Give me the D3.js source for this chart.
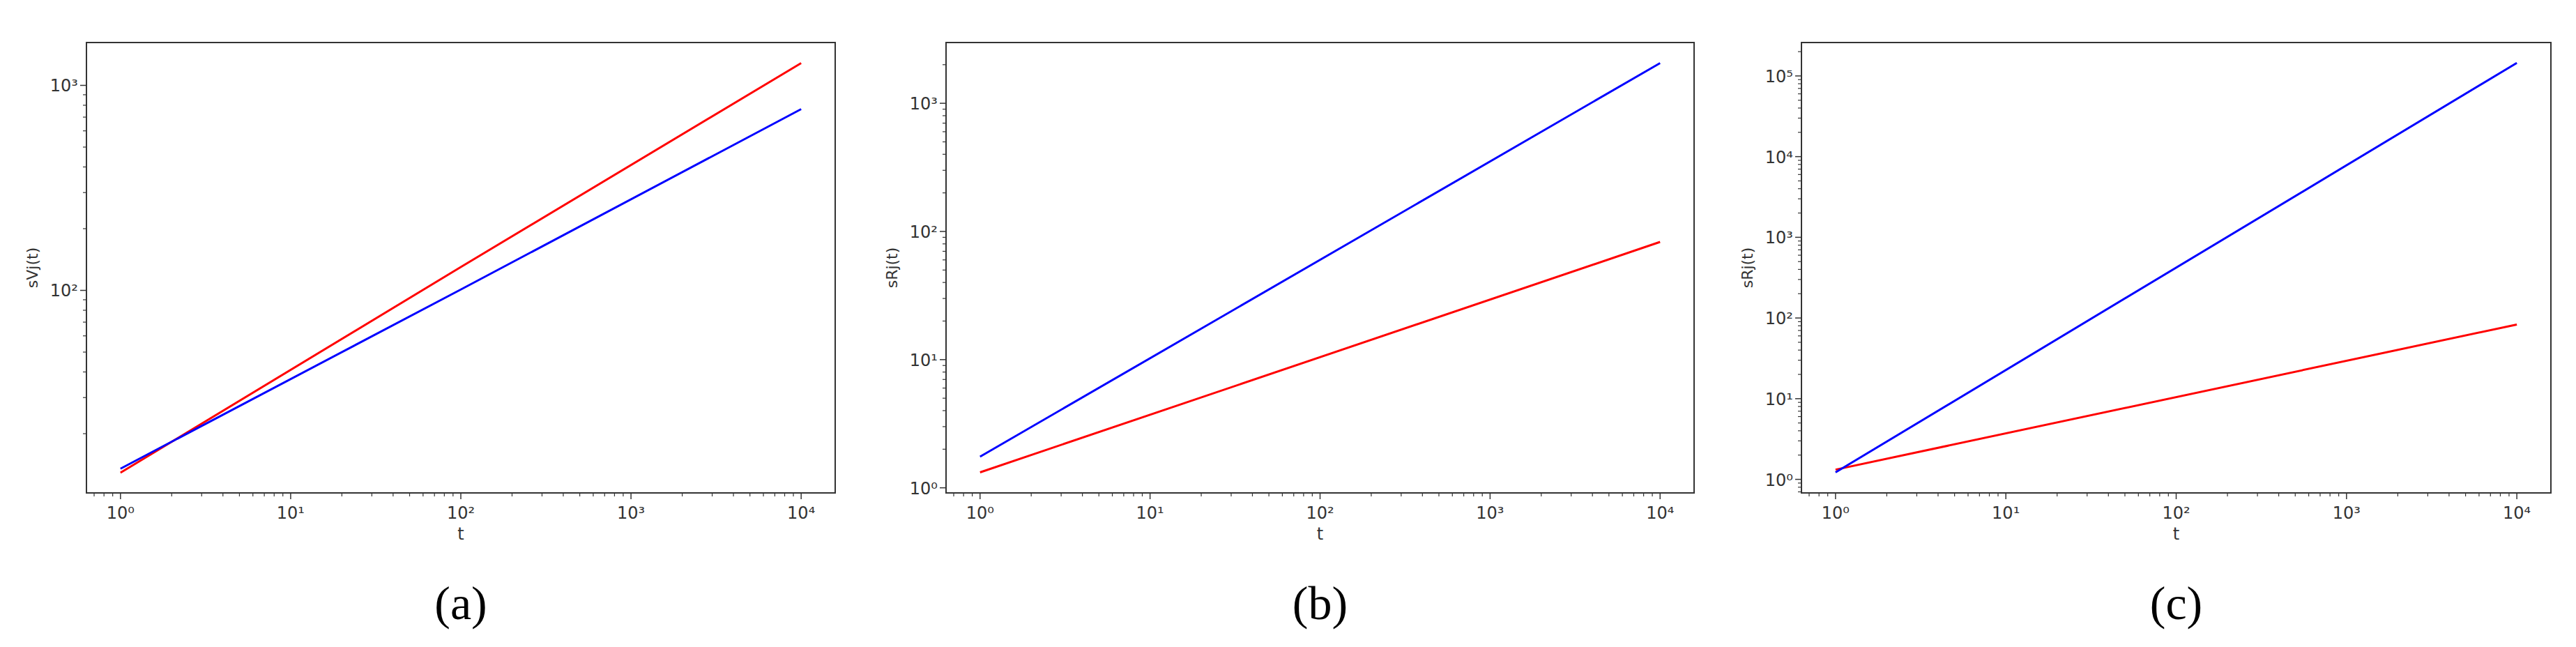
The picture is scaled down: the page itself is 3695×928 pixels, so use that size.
<!DOCTYPE html>
<html><head><meta charset="utf-8">
<script src="https://cdn.jsdelivr.net/npm/d3@7"></script>
<style>body{margin:0;background:#fff}</style>
</head><body>
<svg id="c" width="3695" height="928"></svg>
<script>
// Data
const tA = [1, 100, 10000];
const redA = [12.9, 130, 1285];
const blueA = [13.5, 101, 766];
const tB = [1, 10000];
const redB = [1.32, 82.8];
const blueB = [1.75, 2060];
const tC = [1, 10000];
const redC = [1.32, 83];
const blueC = [1.22, 145000];
const xTicks = [1, 10, 100, 1000, 10000];
const panelLabels = ["(a)", "(b)", "(c)"];
const yLabels = ["sVj(t)", "sRj(t)", "sRj(t)"];

const panels = [
  {t: tA, red: redA, blue: blueA, left: 124, right: 1198, ydom: [1.012, 3.209], yt: [100, 1000]},
  {t: tB, red: redB, blue: blueB, left: 1357, right: 2430, ydom: [-0.04, 3.474], yt: [1, 10, 100, 1000]},
  {t: tC, red: redC, blue: blueC, left: 2584, right: 3659, ydom: [-0.168, 5.414], yt: [1, 10, 100, 1000, 10000, 100000]}
];
const plotTop = 61, plotBottom = 707;
const svg = d3.select("#c");
const sup = {"0":"⁰","1":"¹","2":"²","3":"³","4":"⁴","5":"⁵"};
const fmt = v => "10" + sup[String(Math.round(Math.log10(v)))];

panels.forEach((p, i) => {
  const x = d3.scaleLog().domain([Math.pow(10,-0.2), Math.pow(10,4.2)]).range([p.left, p.right]);
  const y = d3.scaleLog().domain([Math.pow(10,p.ydom[0]), Math.pow(10,p.ydom[1])]).range([plotBottom, plotTop]);
  const g = svg.append("g");
  const xMinor = [];
  for (let e = -1; e <= 4; e++)
    for (let m = 2; m <= 9; m++) { const v = m*Math.pow(10,e); if (Math.log10(v)>=-0.2 && Math.log10(v)<=4.2) xMinor.push(v); }
  const yMinor = [];
  for (let e = Math.floor(p.ydom[0]); e <= Math.ceil(p.ydom[1]); e++)
    for (let m = 2; m <= 9; m++) { const v = m*Math.pow(10,e); if (Math.log10(v)>=p.ydom[0] && Math.log10(v)<=p.ydom[1]) yMinor.push(v); }
  g.selectAll(".xm").data(xMinor).join("line").attr("x1",d=>x(d)).attr("x2",d=>x(d)).attr("y1",plotBottom).attr("y2",plotBottom+5).attr("stroke","#333").attr("stroke-width",1.2);
  g.selectAll(".ym").data(yMinor).join("line").attr("y1",d=>y(d)).attr("y2",d=>y(d)).attr("x1",p.left).attr("x2",p.left-5).attr("stroke","#333").attr("stroke-width",1.2);
  g.selectAll(".xM").data(xTicks).join("line").attr("x1",d=>x(d)).attr("x2",d=>x(d)).attr("y1",plotBottom).attr("y2",plotBottom+9).attr("stroke","#333").attr("stroke-width",1.5);
  g.selectAll(".yM").data(p.yt).join("line").attr("y1",d=>y(d)).attr("y2",d=>y(d)).attr("x1",p.left).attr("x2",p.left-9).attr("stroke","#333").attr("stroke-width",1.5);
  g.selectAll(".xl").data(xTicks).join("text").attr("x",d=>x(d)).attr("y",plotBottom+37).attr("text-anchor","middle")
    .attr("font-family","DejaVu Sans").attr("font-size",24).attr("fill","#333").text(fmt);
  g.selectAll(".yl").data(p.yt).join("text").attr("x",p.left-12).attr("y",d=>y(d)+9).attr("text-anchor","end")
    .attr("font-family","DejaVu Sans").attr("font-size",24).attr("fill","#333").text(fmt);
  const line = d3.line().x(d=>x(d[0])).y(d=>y(d[1]));
  g.append("path").attr("d", line(p.t.map((t,k)=>[t,p.red[k]]))).attr("fill","none").attr("stroke","#ff0000").attr("stroke-width",3);
  g.append("path").attr("d", line(p.t.map((t,k)=>[t,p.blue[k]]))).attr("fill","none").attr("stroke","#0000ff").attr("stroke-width",3);
  g.append("rect").attr("x",p.left).attr("y",plotTop).attr("width",p.right-p.left).attr("height",plotBottom-plotTop).attr("fill","none").attr("stroke","#333").attr("stroke-width",2);
  g.append("text").attr("x",(p.left+p.right)/2).attr("y",plotBottom+67).attr("text-anchor","middle")
    .attr("font-family","DejaVu Sans").attr("font-size",24).attr("fill","#333").text("t");
  g.append("text").attr("transform",`translate(${p.left-70},${(plotTop+plotBottom)/2}) rotate(-90)`).attr("text-anchor","middle")
    .attr("font-family","DejaVu Sans").attr("font-size",22).attr("fill","#333").text(yLabels[i]);
  g.append("text").attr("x",(p.left+p.right)/2).attr("y",888).attr("text-anchor","middle")
    .attr("font-family","Liberation Serif").attr("font-size",68).attr("fill","#000").text(panelLabels[i]);
});
</script>
</body></html>
